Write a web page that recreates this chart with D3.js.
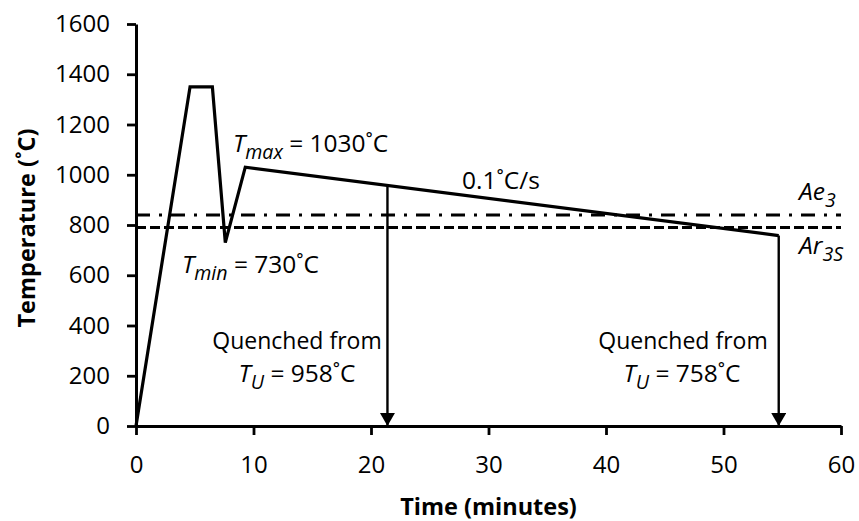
<!DOCTYPE html>
<html>
<head>
<meta charset="utf-8">
<script src="https://cdn.jsdelivr.net/npm/d3@7"></script>
<style>
  html, body { margin: 0; padding: 0; background: #fff; }
  svg { display: block; }
  text { font-family: "Open Sans", sans-serif; fill: #000; }
</style>
</head>
<body>
<svg id="chart" width="859" height="521"></svg>
<script>
// ---- Data ----
const profileTime = [0, 4.6, 6.5, 7.6, 9.3, 54.7];      // minutes
const profileTemp = [0, 1350, 1350, 730, 1030, 758];   // °C
const quenchTime = [21.4, 54.7];                        // minutes
const quenchTemp = [958, 758];                          // °C
const ae3Temp = 840;
const ar3sTemp = 790;
const xTicks = [0, 10, 20, 30, 40, 50, 60];
const yTicks = [0, 200, 400, 600, 800, 1000, 1200, 1400, 1600];

// ---- Layout ----
const svg = d3.select("#chart");
const mLeft = 136, mRight = 841, mTop = 24, mBottom = 426;
const x = d3.scaleLinear().domain([0, 60]).range([mLeft, mRight]);
const y = d3.scaleLinear().domain([0, 1600]).range([mBottom, mTop]);
const FS = 23;
const TFS = 24;

// Axes
const xAxis = d3.axisBottom(x).tickValues(xTicks).tickFormat(d3.format("d"))
  .tickSize(9).tickSizeOuter(0).tickPadding(21);
const yAxis = d3.axisLeft(y).tickValues(yTicks).tickFormat(d3.format("d"))
  .tickSize(9).tickSizeOuter(0).tickPadding(17);

const gx = svg.append("g").attr("transform", `translate(0,${mBottom})`).call(xAxis);
const gy = svg.append("g").attr("transform", `translate(${mLeft},0)`).call(yAxis);
[gx, gy].forEach(g => {
  g.select(".domain").attr("stroke", "#000").attr("stroke-width", 3);
  g.selectAll(".tick line").attr("stroke", "#000").attr("stroke-width", 2.8);
  g.selectAll(".tick text").attr("font-family", "Open Sans, sans-serif").attr("font-size", TFS).attr("fill", "#000");
});

// Axis titles
svg.append("text")
  .attr("x", (mLeft + mRight) / 2).attr("y", 515)
  .attr("text-anchor", "middle").attr("font-weight", "bold").attr("font-size", FS + 0.5)
  .text("Time (minutes)");
svg.append("text")
  .attr("transform", `translate(35,${(mTop + mBottom) / 2 + 3}) rotate(-90)`)
  .attr("text-anchor", "middle").attr("font-weight", "bold").attr("font-size", FS + 0.5)
  .text("Temperature (˚C)");

// Reference lines
const hline = (t, dash) => svg.append("line")
  .attr("x1", x(0)).attr("x2", x(60)).attr("y1", y(t)).attr("y2", y(t))
  .attr("stroke", "#000").attr("stroke-width", 3).attr("stroke-dasharray", dash);
hline(ae3Temp, "14,9,3,9");
hline(ar3sTemp, "10,4");

// Profile line
const pts = profileTime.map((t, i) => [t, profileTemp[i]]);
svg.append("path")
  .attr("d", d3.line().x(d => x(d[0])).y(d => y(d[1]))(pts))
  .attr("fill", "none").attr("stroke", "#000").attr("stroke-width", 3.2)
  .attr("stroke-linejoin", "miter");

// Quench arrows
const defs = svg.append("defs");
defs.append("marker").attr("id", "arrow")
  .attr("viewBox", "0 0 15 13").attr("refX", 7.5).attr("refY", 13)
  .attr("markerWidth", 15).attr("markerHeight", 13).attr("markerUnits", "userSpaceOnUse")
  .attr("orient", "0")
  .append("path").attr("d", "M0,0 L15,0 L7.5,13 Z").attr("fill", "#000");
quenchTime.forEach((t, i) => {
  svg.append("line")
    .attr("x1", x(t)).attr("x2", x(t))
    .attr("y1", y(quenchTemp[i])).attr("y2", y(0))
    .attr("stroke", "#000").attr("stroke-width", 2.4)
    .attr("marker-end", "url(#arrow)");
});

// Annotations
function label(px, py, parts, anchor, fs) {
  const size = fs || FS;
  const t = svg.append("text").attr("x", px).attr("y", py)
    .attr("font-size", size).attr("text-anchor", anchor || "start");
  let shift = 0;
  parts.forEach(p => {
    const ts = t.append("tspan").text(p.t);
    if (p.i) ts.attr("font-style", "italic");
    const want = p.sub ? 7 : 0;
    if (want !== shift) { ts.attr("dy", want - shift); shift = want; }
    if (p.sub) ts.attr("font-size", size * 0.8);
  });
  return t;
}
const AFS = 24.5;
label(233, 152, [{t: "T", i: 1}, {t: "max", i: 1, sub: 1}, {t: " = 1030˚C"}], "start", AFS);
label(182, 273, [{t: "T", i: 1}, {t: "min", i: 1, sub: 1}, {t: " = 730˚C"}], "start", AFS);
label(462, 189, [{t: "0.1˚C/s"}], "start", AFS);
label(799, 200, [{t: "Ae", i: 1}, {t: "3", i: 1, sub: 1}], "start", AFS);
label(799, 254, [{t: "Ar", i: 1}, {t: "3S", i: 1, sub: 1}], "start", AFS);
label(297, 349, [{t: "Quenched from"}], "middle");
label(297, 382, [{t: "T", i: 1}, {t: "U", i: 1, sub: 1}, {t: " = 958˚C"}], "middle", AFS);
label(683, 349, [{t: "Quenched from"}], "middle");
label(682, 382, [{t: "T", i: 1}, {t: "U", i: 1, sub: 1}, {t: " = 758˚C"}], "middle", AFS);
</script>
</body>
</html>
